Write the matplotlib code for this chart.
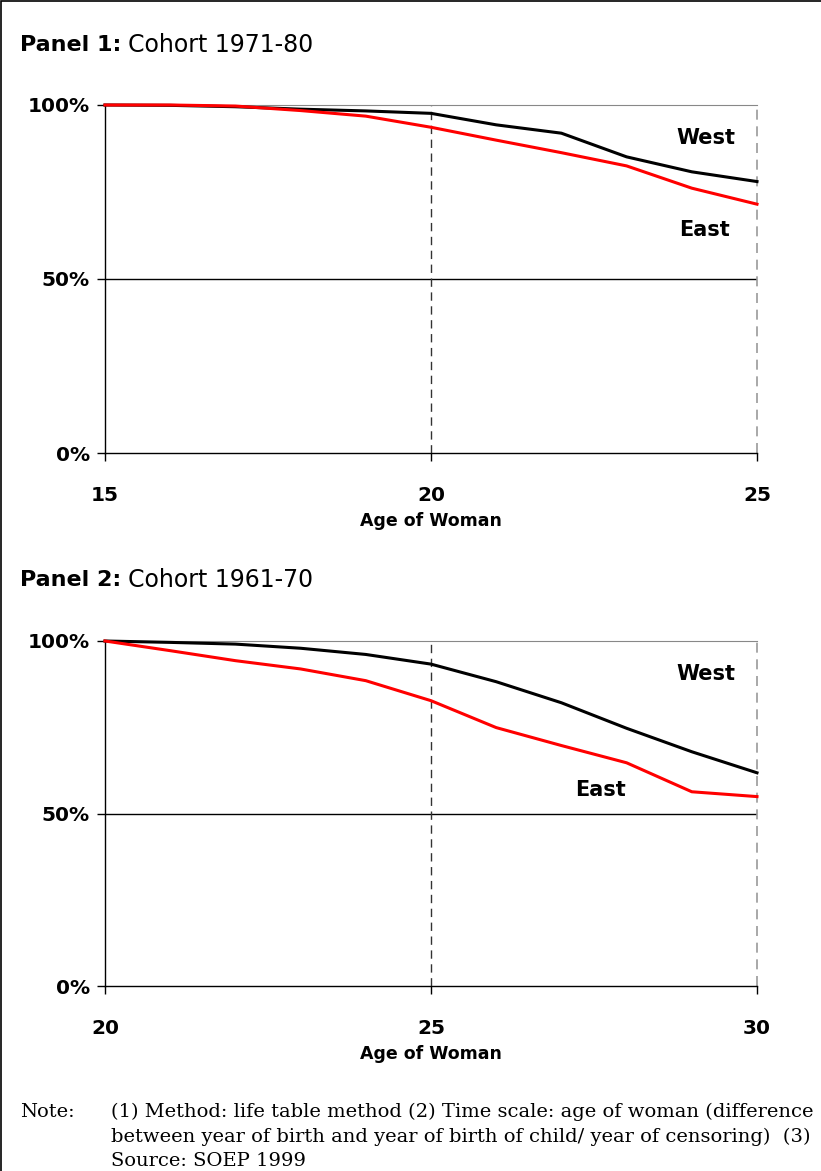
import matplotlib.pyplot as plt
from matplotlib.patches import Rectangle

# panel 1: cohort 1971-80
age1 = [15, 16, 17, 18, 19, 20, 21, 22, 23, 24, 25]
west1 = [100, 99.9, 99.5, 98.8, 98.3, 97.6, 94.3, 91.9, 85.1, 80.8, 78.0]
east1 = [100, 100, 99.7, 98.4, 96.8, 93.6, 89.9, 86.3, 82.5, 76.1, 71.5]

# panel 2: cohort 1961-70
age2 = [20, 21, 22, 23, 24, 25, 26, 27, 28, 29, 30]
west2 = [100, 99.6, 99.1, 97.9, 96.1, 93.3, 88.2, 82.1, 74.7, 67.9, 61.8]
east2 = [100, 97.2, 94.3, 91.9, 88.5, 82.7, 74.9, 69.7, 64.7, 56.3, 54.9]

yticks = [0, 50, 100]
ytick_labels = ['0%', '50%', '100%']

W, H = 821, 1171
fig = plt.figure(figsize=(W / 100, H / 100), dpi=100)
fig.patch.set_facecolor('white')

sans = ['DejaVu Sans']
serif = ['DejaVu Serif']


def px_axes(left, top, right, bottom):
    return fig.add_axes([left / W, 1 - bottom / H, (right - left) / W, (bottom - top) / H])


def draw_panel(ax, ages, west, east, mid, west_xy, east_xy):
    ax.plot(ages, west, color='black', lw=2.2, zorder=3, clip_on=False)
    ax.plot(ages, east, color='red', lw=2.2, zorder=4, clip_on=False)
    ax.set_xlim(ages[0], ages[-1])
    ax.set_ylim(0, 100)
    ax.axhline(50, color='black', lw=1, zorder=1)
    ax.axvline(mid, color='#333333', lw=1, ls=(0, (6, 4)), zorder=1)
    ax.axvline(ages[-1], color='#999999', lw=1.2, ls=(0, (6, 4)), zorder=1, clip_on=False)
    for s in ['left', 'bottom']:
        ax.spines[s].set_color('black')
        ax.spines[s].set_linewidth(1)
    ax.spines['top'].set_color('#888888')
    ax.spines['right'].set_visible(False)
    ax.set_xticks([ages[0], mid, ages[-1]])
    ax.set_yticks(yticks)
    ax.set_yticklabels(ytick_labels)
    ax.tick_params(direction='out', length=6, width=1, pad=5)
    for lab in ax.get_xticklabels() + ax.get_yticklabels():
        lab.set_fontfamily(sans)
        lab.set_fontweight('bold')
        lab.set_fontsize(14.5)
    ax.tick_params(axis='x', pad=18)
    ax.set_xlabel('Age of Woman', fontfamily=sans, fontweight='bold', fontsize=12.5, labelpad=5)
    ax.text(west_xy[0], west_xy[1], 'West', fontfamily=sans, fontweight='bold', fontsize=15,
            ha='center', va='center')
    ax.text(east_xy[0], east_xy[1], 'East', fontfamily=sans, fontweight='bold', fontsize=15,
            ha='center', va='center')


ax1 = px_axes(105, 105, 757, 453)
draw_panel(ax1, age1, west1, east1, 20, (24.21, 90.5), (24.2, 64.0))

ax2 = px_axes(105, 641, 757, 986)
draw_panel(ax2, age2, west2, east2, 25, (29.21, 90.3), (27.6, 56.8))

# panel titles
for y, num, cohort in [(45, '1', '1971-80'), (580, '2', '1961-70')]:
    t = fig.text(20 / W, 1 - y / H, 'Panel %s:' % num, fontfamily=sans, fontweight='bold',
                 fontsize=16, va='center', ha='left')
    fig.canvas.draw()
    bb = t.get_window_extent()
    fig.text(bb.x1 / W + 7 / W, 1 - y / H, 'Cohort ' + cohort, fontfamily=sans, fontsize=17,
             va='center', ha='left')

# note
note_lines = ['(1) Method: life table method (2) Time scale: age of woman (difference',
              'between year of birth and year of birth of child/ year of censoring)  (3)',
              'Source: SOEP 1999']
fig.text(20 / W, 1 - 1112 / H, 'Note:', fontfamily=serif, fontsize=14, va='center', ha='left')
for i, line in enumerate(note_lines):
    fig.text(111 / W, 1 - (1112 + 24.5 * i) / H, line, fontfamily=serif, fontsize=14,
             va='center', ha='left')

# outer frame
fig.patches.append(Rectangle((1 / W, -0.05), 1.2, 1 - 1 / H + 0.05, transform=fig.transFigure,
                             fill=False, edgecolor='black', lw=1.2, clip_on=False))

fig.savefig('out.png', dpi=100)
